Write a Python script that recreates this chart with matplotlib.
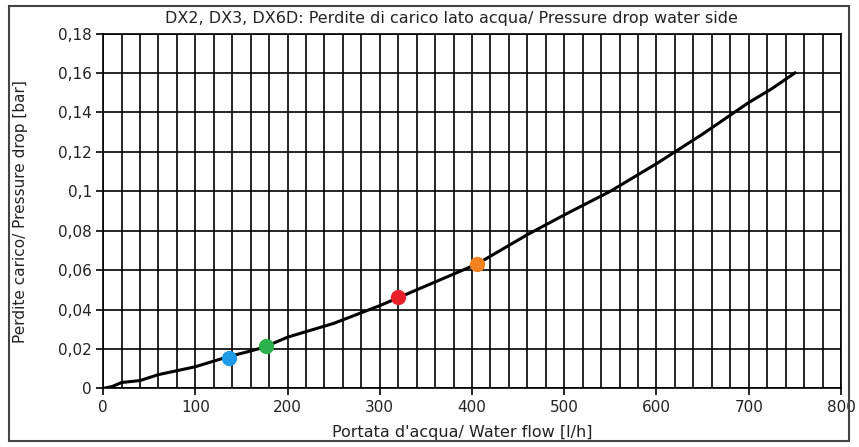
import matplotlib
matplotlib.use("Agg")
import matplotlib.pyplot as plt
from matplotlib.ticker import MultipleLocator, FuncFormatter
from matplotlib.patches import Rectangle

# pressure drop curve
flow = [0, 10, 20, 40, 60, 100, 135, 160, 175, 200, 250, 300, 320, 350,
        405, 460, 500, 550, 600, 650, 700, 725, 750]
drop = [0, 0.001, 0.003, 0.004, 0.007, 0.011, 0.016, 0.019, 0.021, 0.026,
        0.033, 0.042, 0.046, 0.052, 0.063, 0.078, 0.088, 0.100, 0.114,
        0.129, 0.145, 0.152, 0.160]

# operating points of the models
pt_flow = [136, 177, 320, 405]
pt_drop = [0.0153, 0.0217, 0.0466, 0.0632]
pt_colors = ['#1e9be8', '#2bb24c', '#e8202a', '#f58220']

title = "DX2, DX3, DX6D: Perdite di carico lato acqua/ Pressure drop water side"
xlabel = "Portata d'acqua/ Water flow [l/h]"
ylabel = "Perdite carico/ Pressure drop [bar]"

plt.rcParams['font.family'] = ['DejaVu Sans']
txt = '#222222'

fig = plt.figure(figsize=(8.59, 4.47), dpi=100)
ax = fig.add_axes([0.120, 0.131, 0.859, 0.794])

ax.plot(flow, drop, color='black', linewidth=2.2, zorder=3)
for fx, fy, c in zip(pt_flow, pt_drop, pt_colors):
    ax.plot(fx, fy, 'o', color=c, markersize=10, zorder=4)

ax.set_xlim(0, 800)
ax.set_ylim(0, 0.18)
ax.xaxis.set_major_locator(MultipleLocator(100))
ax.xaxis.set_minor_locator(MultipleLocator(20))
ax.yaxis.set_major_locator(MultipleLocator(0.02))

def fmt(v, pos):
    s = ('%.2f' % v).rstrip('0').rstrip('.')
    return s.replace('.', ',')

ax.yaxis.set_major_formatter(FuncFormatter(fmt))
ax.grid(which='both', axis='x', color='black', linewidth=1.2)
ax.grid(which='major', axis='y', color='black', linewidth=1.2)
ax.set_axisbelow(True)
ax.tick_params(which='major', length=5, width=1.2, color='black',
               labelsize=11, labelcolor=txt, pad=3)
ax.tick_params(which='minor', length=0)
for s in ax.spines.values():
    s.set_linewidth(1.2)
    s.set_color('black')

fig.text(451 / 859, 1 - 19 / 447, title, ha='center', va='center',
         fontsize=11.5, color=txt)
fig.text(462 / 859, 1 - 433 / 447, xlabel, ha='center', va='center',
         fontsize=11.5, color=txt)
fig.text(21 / 859, 1 - 212 / 447, ylabel, ha='center', va='center',
         rotation=90, fontsize=11, color=txt)

fig.patches.append(Rectangle((9 / 859, 6 / 447), 840 / 859, 435 / 447,
                             transform=fig.transFigure, fill=False,
                             edgecolor='#444444', linewidth=1.5))

fig.savefig('out.png', dpi=100)
